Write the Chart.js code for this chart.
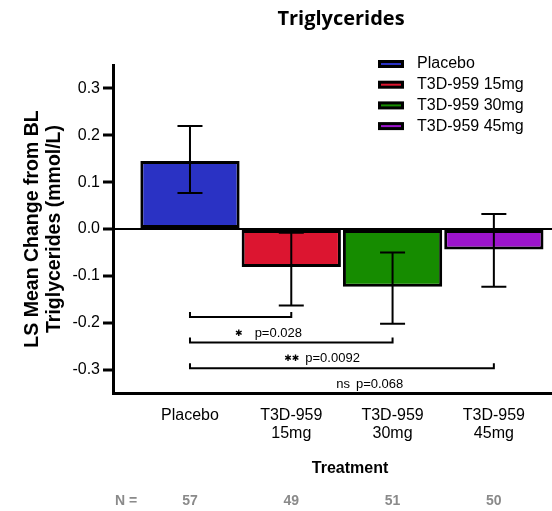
<!DOCTYPE html>
<html>
<head>
<meta charset="utf-8">
<script src="https://cdn.jsdelivr.net/npm/chart.js@4.4.0/dist/chart.umd.min.js"></script>
<style>
  html, body { margin: 0; padding: 0; background: #fff; }
</style>
</head>
<body>
<canvas id="grafico" width="552" height="511"></canvas>
<script>
// Dados
const grupos = ['Placebo', 'T3D-959 15mg', 'T3D-959 30mg', 'T3D-959 45mg'];
const rotulosX = [['Placebo'], ['T3D-959', '15mg'], ['T3D-959', '30mg'], ['T3D-959', '45mg']];
const mediaLS = [0.145, -0.081, -0.1235, -0.0435];
const erroSup = [0.220, -0.008, -0.050, 0.032];
const erroInf = [0.077, -0.163, -0.202, -0.1235];
const nPorGrupo = [57, 49, 51, 50];
const ticksY = [-0.3, -0.2, -0.1, 0.0, 0.1, 0.2, 0.3];
const cores = ['#2a32c4', '#dc1530', '#168c00', '#9c14cc'];

// Comparações contra placebo: grupo, altura da chave, marca e p-valor
const compGrupo = [1, 2, 3];
const compAltura = [-0.188, -0.242, -0.297];
const compMarca = ['\u2731', '\u2731\u2731', 'ns'];
const compP = ['p=0.028', 'p=0.0092', 'p=0.068'];

const FONTE = "'Liberation Sans', Arial, sans-serif";
const ctx = document.getElementById('grafico').getContext('2d');

// Barras de erro, chaves, título, legenda e linha de N
const pluginExtras = {
  id: 'extras',
  afterDatasetsDraw(chart) {
    const { ctx, scales: { x, y } } = chart;
    ctx.save();
    ctx.strokeStyle = '#000';
    ctx.lineWidth = 2;
    mediaLS.forEach((m, i) => {
      const px = x.getPixelForValue(i);
      const yTop = y.getPixelForValue(erroSup[i]);
      const yBot = y.getPixelForValue(erroInf[i]);
      ctx.beginPath();
      ctx.moveTo(px, yTop); ctx.lineTo(px, yBot);
      ctx.moveTo(px - 12.5, yTop); ctx.lineTo(px + 12.5, yTop);
      ctx.moveTo(px - 12.5, yBot); ctx.lineTo(px + 12.5, yBot);
      ctx.stroke();
    });

    // chaves de significância
    ctx.fillStyle = '#000';
    ctx.textBaseline = 'middle';
    compGrupo.forEach((g, k) => {
      const x0 = x.getPixelForValue(0);
      const x1 = x.getPixelForValue(g);
      const yy = y.getPixelForValue(compAltura[k]);
      ctx.beginPath();
      ctx.moveTo(x0, yy - 5); ctx.lineTo(x0, yy); ctx.lineTo(x1, yy); ctx.lineTo(x1, yy - 5);
      ctx.stroke();
      const xTexto = (x0 + x1) / 2 + 14;
      ctx.textAlign = 'left';
      ctx.font = `13px ${FONTE}`;
      ctx.fillText(compP[k], xTexto, yy + 16);
      ctx.textAlign = 'right';
      if (compMarca[k] === 'ns') {
        ctx.fillText('ns', xTexto - 6, yy + 16);
      } else {
        ctx.font = `9px 'DejaVu Sans', sans-serif`;
        ctx.fillText(compMarca[k], xTexto - (k === 0 ? 12 : 6), yy + 16.5);
      }
    });
    ctx.restore();
  },
  afterDraw(chart) {
    const { ctx, scales: { x } } = chart;
    ctx.save();
    // título
    ctx.fillStyle = '#000';
    ctx.textAlign = 'center';
    ctx.textBaseline = 'middle';
    ctx.font = `bold 20px 'Open Sans', sans-serif`;
    ctx.fillText('Triglycerides', 341, 19);

    // legenda
    ctx.textAlign = 'left';
    ctx.font = `16px ${FONTE}`;
    grupos.forEach((g, i) => {
      const yy = 64 + i * 20.7;
      ctx.fillStyle = '#000';
      ctx.fillRect(378, yy - 4, 26, 8);
      ctx.fillStyle = cores[i];
      ctx.fillRect(381, yy - 1, 20, 2);
      ctx.fillStyle = '#000';
      ctx.fillText(g, 417, yy);
    });

    // título do eixo x
    ctx.textAlign = 'center';
    ctx.font = `bold 16px ${FONTE}`;
    ctx.fillText('Treatment', 350, 469);

    // N por grupo
    ctx.fillStyle = '#8a8a8a';
    ctx.font = `bold 14px ${FONTE}`;
    ctx.fillText('N =', 126, 501);
    nPorGrupo.forEach((n, i) => {
      ctx.fillText(String(n), x.getPixelForValue(i), 501);
    });
    ctx.restore();
  }
};

new Chart(ctx, {
  type: 'bar',
  data: {
    datasets: [{
      data: mediaLS.map((v, i) => ({ x: i, y: v })),
      backgroundColor: cores,
      borderColor: '#000',
      borderWidth: 3,
      borderSkipped: false,
      barPercentage: 0.98,
      categoryPercentage: 1
    }]
  },
  options: {
    responsive: false,
    animation: false,
    layout: { padding: { top: 65 } },
    plugins: {
      legend: { display: false },
      tooltip: { enabled: false }
    },
    scales: {
      x: {
        type: 'linear',
        offset: false,
        min: -0.76,
        max: 3.574,
        afterBuildTicks: s => { s.ticks = rotulosX.map((_, i) => ({ value: i })); },
        afterFit: s => { s.height = 118; },
        grid: { display: false, drawTicks: false, offset: false },
        border: { display: true, color: '#000', width: 3 },
        ticks: {
          callback: v => rotulosX[v],
          color: '#000',
          font: { family: FONTE, size: 16, lineHeight: 1.1 },
          padding: 14,
          maxRotation: 0,
          autoSkip: false
        }
      },
      y: {
        min: -0.35,
        max: 0.35,
        afterBuildTicks: s => { s.ticks = ticksY.map(v => ({ value: v })); },
        afterFit: s => { s.width = 113; },
        grid: {
          color: c => (c.tick && c.tick.value === 0 ? '#000' : 'rgba(0,0,0,0)'),
          lineWidth: 2,
          tickColor: '#000',
          tickWidth: 3,
          tickLength: 10
        },
        border: { color: '#000', width: 3 },
        ticks: {
          callback: v => v.toFixed(1),
          color: '#000',
          font: { family: FONTE, size: 16 },
          padding: 3
        },
        title: {
          display: true,
          text: ['LS Mean Change from BL', 'Triglycerides (mmol/L)'],
          color: '#000',
          font: { family: FONTE, size: 19.5, weight: 'bold', lineHeight: 1.12 },
          padding: { top: 22 }
        }
      }
    }
  },
  plugins: [pluginExtras]
});
</script>
</body>
</html>
